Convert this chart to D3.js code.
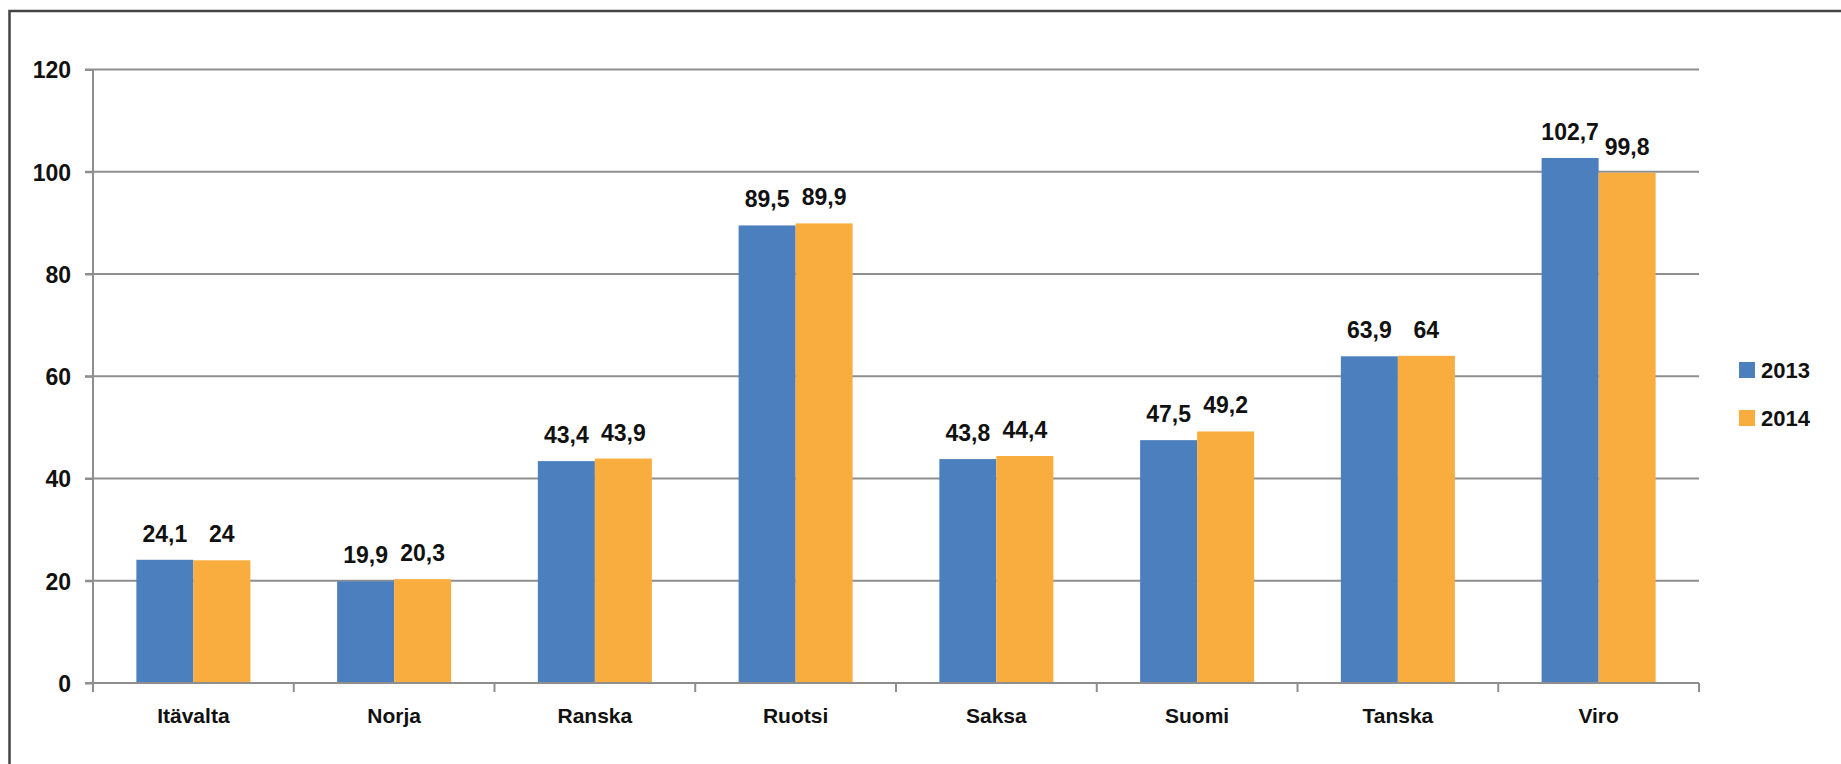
<!DOCTYPE html>
<html>
<head>
<meta charset="utf-8">
<script src="https://cdn.jsdelivr.net/npm/d3@7/dist/d3.min.js"></script>
<style>
  html, body { margin: 0; padding: 0; background: #fff; }
  svg { display: block; }
  text { font-family: "Liberation Sans", Arial, sans-serif; font-weight: bold; fill: #111; }
</style>
</head>
<body>
<svg id="chart" width="1841" height="764"></svg>
<script>
const categories = ["Itävalta", "Norja", "Ranska", "Ruotsi", "Saksa", "Suomi", "Tanska", "Viro"];
const seriesNames = ["2013", "2014"];
const values2013 = [24.1, 19.9, 43.4, 89.5, 43.8, 47.5, 63.9, 102.7];
const values2014 = [24, 20.3, 43.9, 89.9, 44.4, 49.2, 64, 99.8];
const labels2013 = ["24,1", "19,9", "43,4", "89,5", "43,8", "47,5", "63,9", "102,7"];
const labels2014 = ["24", "20,3", "43,9", "89,9", "44,4", "49,2", "64", "99,8"];
const yTicks = [0, 20, 40, 60, 80, 100, 120];
const colors = ["#4C7FBD", "#FAAD3F"];

(function () {
const svg = d3.select("#chart");
const W = 1841, H = 764;
const pLeft = 93, pRight = 1699, pTop = 69.5, pBottom = 683;

// Frame
svg.append("path")
  .attr("d", `M9.5,${H} L9.5,11 L${W},11`)
  .attr("fill", "none").attr("stroke", "#444").attr("stroke-width", 2.5);

const x = d3.scaleBand().domain(categories).range([pLeft, pRight]).paddingInner(0.432).paddingOuter(0.216);
const y = d3.scaleLinear().domain([0, 120]).range([pBottom, pTop]);

// Gridlines
svg.append("g").selectAll("line").data(yTicks.filter(d => d > 0)).join("line")
  .attr("x1", pLeft - 8).attr("x2", pRight)
  .attr("y1", d => y(d)).attr("y2", d => y(d))
  .attr("stroke", "#8E8E8E").attr("stroke-width", 2);

// Y axis
const yAxis = svg.append("g").attr("transform", `translate(${pLeft},0)`)
  .call(d3.axisLeft(y).tickValues(yTicks).tickSize(8).tickPadding(14).tickFormat(d3.format("d")));
yAxis.select(".domain").attr("stroke", "#8E8E8E").attr("stroke-width", 2).attr("d", `M0,${pBottom}V${pTop}`);
yAxis.selectAll(".tick line").attr("stroke", "#8E8E8E").attr("stroke-width", 2);
yAxis.selectAll(".tick text").attr("font-size", 23).attr("font-family", "Liberation Sans, Arial, sans-serif")
  .attr("font-weight", "bold").attr("fill", "#111").attr("dy", "0.36em");

// Bars
const data = categories.map((c, i) => ({ c, v: [values2013[i], values2014[i]], l: [labels2013[i], labels2014[i]] }));
const xs = d3.scaleBand().domain([0, 1]).range([0, x.bandwidth()]);

const groups = svg.append("g").selectAll("g").data(data).join("g")
  .attr("transform", d => `translate(${x(d.c)},0)`);
groups.selectAll("rect").data(d => d.v.map((v, k) => ({ v, k }))).join("rect")
  .attr("x", d => xs(d.k)).attr("width", xs.bandwidth())
  .attr("y", d => y(d.v)).attr("height", d => y(0) - y(d.v))
  .attr("fill", d => colors[d.k]);
groups.selectAll("text").data(d => d.v.map((v, k) => ({ v, k, l: d.l[k] }))).join("text")
  .attr("x", d => xs(d.k) + xs.bandwidth() / 2)
  .attr("y", d => y(d.v) - 18)
  .attr("text-anchor", "middle").attr("font-size", 23)
  .text(d => d.l);

// X axis
const xAxisG = svg.append("g").attr("transform", `translate(0,${pBottom})`);
xAxisG.append("line").attr("x1", pLeft - 8).attr("x2", pRight).attr("y1", 0).attr("y2", 0)
  .attr("stroke", "#8E8E8E").attr("stroke-width", 2);
const boundaries = d3.range(categories.length + 1).map(i => pLeft + i * x.step());
xAxisG.selectAll("line.tk").data(boundaries).join("line").attr("class", "tk")
  .attr("x1", d => d).attr("x2", d => d).attr("y1", 0).attr("y2", 9)
  .attr("stroke", "#8E8E8E").attr("stroke-width", 2);
xAxisG.selectAll("text").data(categories).join("text")
  .attr("x", d => x(d) + x.bandwidth() / 2).attr("y", 40)
  .attr("text-anchor", "middle").attr("font-size", 21)
  .text(d => d);

// Legend
const legend = svg.append("g").selectAll("g").data(seriesNames).join("g")
  .attr("transform", (d, i) => `translate(1739,${362 + i * 48})`);
legend.append("rect").attr("width", 16).attr("height", 16).attr("fill", (d, i) => colors[i]);
legend.append("text").attr("x", 22).attr("y", 8).attr("dy", "0.36em").attr("font-size", 22).text(d => d);
})();
</script>
</body>
</html>
